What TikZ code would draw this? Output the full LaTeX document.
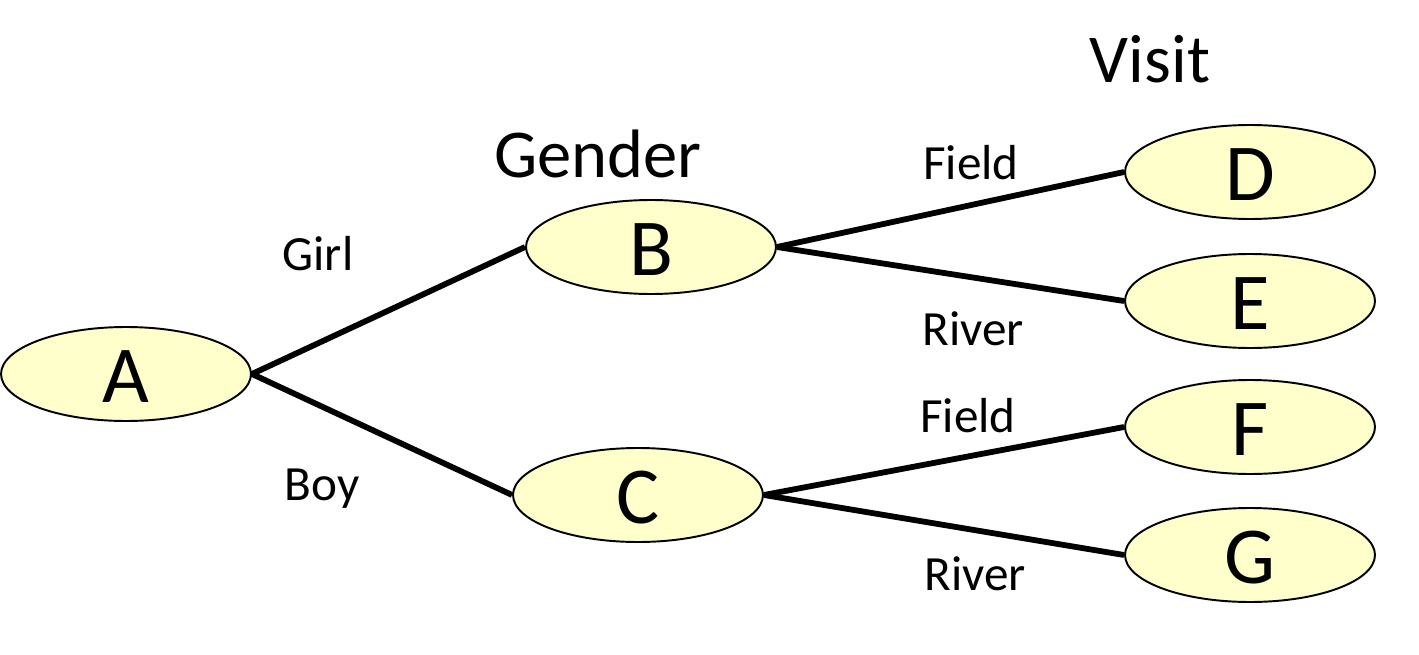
\documentclass[tikz,border=0pt]{standalone}
\usepackage{fontspec}
\setmainfont{Carlito}
\usetikzlibrary{shapes.geometric}
\definecolor{nodefill}{HTML}{FFFFCC}
\tikzset{
  state/.style={ellipse, draw=black, line width=1.1pt, fill=nodefill, minimum width=5cm, minimum height=1.88cm, inner sep=0pt, text height=32pt, text depth=0pt, font=\fontsize{46}{50}\selectfont},
  branch/.style={line width=3.3pt, black},
  lbl/.style={anchor=base, inner sep=0pt, font=\fontsize{28}{32}\selectfont},
  ttl/.style={anchor=base, inner sep=0pt, font=\fontsize{39}{44}\selectfont}
}
\begin{document}
\begin{tikzpicture}[x=0.02cm, y=-0.02cm]
\useasboundingbox (0,0) rectangle (1419,655);
\node[state] (A) at (126,374) {A};
\node[state] (B) at (651,247) {B};
\node[state] (C) at (638,495) {C};
\node[state] (D) at (1250,172) {D};
\node[state] (E) at (1250,301) {E};
\node[state] (F) at (1250,427) {F};
\node[state] (G) at (1250,555) {G};
\draw[branch] (A.east) -- (B.west);
\draw[branch] (A.east) -- (C.west);
\draw[branch] (B.east) -- (D.west);
\draw[branch] (B.east) -- (E.west);
\draw[branch] (C.east) -- (F.west);
\draw[branch] (C.east) -- (G.west);
\node[lbl] (girl) at (318,270) {Girl};
\node[lbl] (boy) at (322,500) {Boy};
\node[lbl] (field1) at (971,180) {Field};
\node[lbl] (river1) at (973,345) {River};
\node[lbl] (field2) at (968,432) {Field};
\node[lbl] (river2) at (975,590) {River};
\node[ttl] (gender) at (598,178) {Gender};
\node[ttl] (visit) at (1150,83) {Visit};
\end{tikzpicture}
\end{document}
